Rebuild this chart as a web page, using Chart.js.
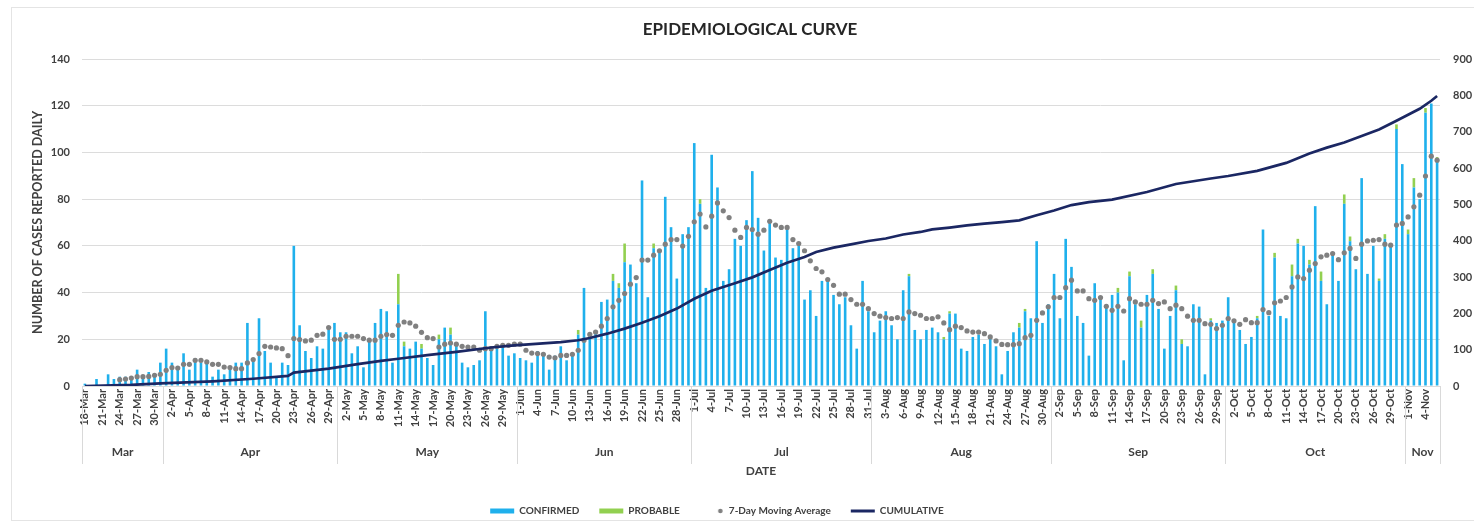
<!DOCTYPE html>
<html><head><meta charset="utf-8">
<script src="https://cdn.jsdelivr.net/npm/chart.js@4/dist/chart.umd.min.js"></script>
<style>
html,body{margin:0;padding:0;background:#fff;}
#wrap{position:relative;width:1474px;height:528px;overflow:hidden;}
#frame{position:absolute;left:11px;top:7px;width:1475px;height:514px;border:1px solid #e4e4e4;box-sizing:border-box;pointer-events:none;}
canvas{position:absolute;left:0;top:0;}
</style></head><body>
<div id="wrap"><canvas id="c" width="1474" height="528"></canvas><div id="frame"></div></div>
<script>
// Month groups of the category axis
const monthLabels = ['Mar','Apr','May','Jun','Jul','Aug','Sep','Oct','Nov'];
const monthFirstDay = [18,1,1,1,1,1,1,1,1];
const monthLastDay  = [31,30,31,30,31,31,30,31,6];

// Daily categories (18-Mar ... 6-Nov)
const dates = [];
monthLabels.forEach((m,i)=>{ for(let d=monthFirstDay[i]; d<=monthLastDay[i]; d++) dates.push(d+'-'+m); });

// CONFIRMED daily cases
const confirmed = [
 1,0,3,0,5,3,4,4,3,7,4,6,5,10,
 16,10,8,14,7,12,10,10,4,7,5,7,10,10,27,12,29,15,10,4,10,9,60,26,15,12,17,16,24,27,
 23,23,14,17,8,19,27,33,32,10,35,17,16,19,16,12,9,20,25,22,18,10,8,9,11,32,17,17,17,13,14,
 12,11,10,15,14,7,13,17,11,14,22,42,22,23,36,37,45,42,53,52,44,88,38,59,58,81,68,46,65,68,
 104,78,42,99,85,45,50,63,60,71,92,72,58,71,55,54,68,59,60,37,41,30,45,46,39,35,38,26,16,45,32,
 23,28,32,26,20,41,47,24,20,24,25,23,20,31,31,16,15,21,22,18,21,17,5,15,23,25,32,29,62,27,35,
 48,29,63,51,30,27,13,44,38,35,39,40,11,47,35,25,39,48,33,16,30,41,18,17,35,34,5,28,27,28,
 38,27,24,18,21,29,67,30,55,30,29,47,61,60,52,77,45,35,56,45,78,62,50,89,48,60,45,63,61,110,95,65,85,80,
 117,121,97
];
// PROBABLE daily cases
const probable = [
 0,0,0,0,0,0,0,0,0,0,0,0,0,0,
 0,0,0,0,0,0,0,0,0,0,0,0,0,0,0,0,0,0,0,0,0,0,0,0,0,0,0,0,0,0,
 0,0,0,0,0,0,0,0,0,0,13,2,0,0,2,0,0,2,0,3,0,0,0,0,0,0,0,0,1,0,0,
 0,0,0,0,0,0,0,0,0,0,2,0,0,0,0,0,3,2,8,0,0,0,0,2,0,0,0,0,0,0,
 0,2,0,0,0,0,0,0,0,0,0,0,0,0,0,0,0,0,0,0,0,0,0,0,0,0,0,0,0,0,0,
 0,0,0,0,0,0,1,0,0,0,0,0,1,1,0,0,0,0,0,0,0,0,0,0,0,2,1,0,0,0,0,
 0,0,0,0,0,0,0,0,0,0,0,2,0,2,0,3,0,2,0,0,0,2,2,0,0,0,0,1,0,0,
 0,0,0,0,0,1,0,0,2,0,0,5,2,0,2,0,4,0,0,0,4,2,0,0,0,0,1,2,0,2,0,2,4,0,
 2,0,1
];
// 7-Day Moving Average
const movingAvg = [
 null,null,null,null,null,null,2.7,3,3.4,4,4,4.1,4.6,5,
 6.7,7.9,7.7,9.3,9.3,11,11,10.3,9.3,9.3,8.1,7.9,7.4,7.4,9.9,11.3,13.9,17,16.7,16.3,16,13,20.3,19.9,19.3,19.6,21.7,22.2,25,20,
 20,21.3,21.3,21.3,20.3,19.6,19.6,21.3,22,21.7,26,27.4,27,25.6,23,20.7,20.3,16.7,17.9,18.4,17.9,17,16.7,16.7,15.3,16,16,17,17.4,17.4,17.9,
 17.9,15.3,14.1,13.9,13.6,12.4,12.1,13.1,13.1,13.6,15.3,19.6,22.1,23.1,25.6,28.9,33.9,36.7,39.6,43.6,46.4,53.9,53.9,56,57.9,60.7,62.7,62.7,59.9,64.1,
 70.3,73.6,68.1,72.7,78.4,75,72.1,66.7,63.6,67.9,67,65,66.7,70.5,68.9,67.9,67.9,62.7,61,57.9,53.6,50.3,48.9,45.6,43.1,39.3,39.3,37,35,35,33.1,
 31,29.9,29.3,28.9,29.3,28.9,31.7,31,30.3,28.9,28.9,29.6,27,24.1,25.6,25,23.6,23.1,23.1,22.4,21,19.3,17.8,17.7,17.7,18.1,20.7,21.7,28.1,31.3,33.9,
 37.9,37.9,42.1,45.3,40.7,40.7,37.4,36.7,37.9,34.1,32.4,34.1,32.1,37.4,36,35,35,36.7,35.3,36,33.1,34.6,33.1,29.9,28.1,28.1,26.7,26.4,24.6,26,
 28.9,27.9,26.4,28.4,27.1,27.1,32.7,31.4,35.6,36.4,37.9,42.4,46.7,46,49.6,52.4,55.3,56,56.7,54.1,57,58.9,54.6,60.7,62.1,62.4,62.7,60.7,60.3,68.9,69.6,72.4,76.7,81.7,
 89.9,98.4,96.7
];
// CUMULATIVE (right axis), read at the marked days
const cumulativeDays = [0,8,13,22,29,35,36,42,47,51,54,59,64,70,74,82,85,87,90,93,96,99,102,105,108,112,115,118,121,124,126,129,132,135,138,141,144,146,149,152,155,158,161,164,167,170,173,177,183,188,194,197,202,207,211,214,217,220,223,226,230,232,233];
const cumulativeVals = [0,3,7,13,20,28,37,48,60,69,75,85,94,106,112,121,126,132,144,158,174,192,213,240,262,283,299,319,339,355,369,381,390,399,406,417,424,431,436,442,447,451,456,470,483,498,506,513,534,556,571,578,592,614,640,656,670,688,706,730,763,785,798];
const cumulative = dates.map(()=>null);
cumulativeDays.forEach((d,i)=>{ cumulative[d] = cumulativeVals[i]; });

const leftTicks = {min:0, max:140, step:20};
const rightTicks = {min:0, max:900, step:100};

const FONT = 'Lato, "Open Sans", sans-serif';
const TXT = '#404040';
const BLUE = '#1fb0ec', GREEN = '#92d050', GREY = '#808080', NAVY = '#1b2763';

// legend marker for the moving average: small dot at the right end of a 24px box
const dot = document.createElement('canvas');
dot.width = 24; dot.height = 6;
(function(){const g=dot.getContext('2d');g.fillStyle=GREY;g.beginPath();g.arc(20.5,3,2.3,0,Math.PI*2);g.fill();})();

const monthRow = {
  id:'monthRow',
  afterLayout(chart){
    // nudge title and legend to their positions in the reference
    if (chart.titleBlock){ chart.titleBlock.left += 13; chart.titleBlock.right += 13; }
    if (chart.legend){ chart.legend.left -= 20; chart.legend.right -= 20; }
  },
  afterDraw(chart){
    const {ctx} = chart; const {left,right,bottom} = chart.chartArea;
    const w = (right-left)/dates.length;
    ctx.save();
    ctx.strokeStyle = '#d9d9d9'; ctx.lineWidth = 1;
    ctx.fillStyle = TXT; ctx.font = 'bold 12px '+FONT; ctx.textAlign='center'; ctx.textBaseline='middle';
    let s = 0;
    monthLabels.forEach((m,i)=>{
      const cnt = monthLastDay[i]-monthFirstDay[i]+1;
      const x0 = left + s*w, x1 = left + (s+cnt)*w;
      ctx.beginPath(); ctx.moveTo(Math.round(x0)+0.5, bottom); ctx.lineTo(Math.round(x0)+0.5, bottom+78); ctx.stroke();
      if (i === monthLabels.length-1){ ctx.beginPath(); ctx.moveTo(Math.round(x1)+0.5, bottom); ctx.lineTo(Math.round(x1)+0.5, bottom+78); ctx.stroke(); }
      ctx.fillText(m, (x0+x1)/2, bottom+66);
      s += cnt;
    });
    ctx.restore();
  }
};

new Chart(document.getElementById('c'), {
  type:'bar',
  data:{
    labels: dates,
    datasets:[
      {label:'CONFIRMED', data:confirmed, backgroundColor:BLUE, stack:'cases', order:2, barPercentage:0.45, categoryPercentage:1, yAxisID:'y'},
      {label:'PROBABLE', data:probable, backgroundColor:GREEN, stack:'cases', order:3, barPercentage:0.45, categoryPercentage:1, yAxisID:'y'},
      {type:'line', label:'7-Day Moving Average', data:movingAvg, stack:'ma', showLine:false, pointRadius:2.6, pointBackgroundColor:GREY, pointBorderWidth:0, borderColor:GREY, order:1, yAxisID:'y'},
      {type:'line', label:'CUMULATIVE', data:cumulative, borderColor:NAVY, borderWidth:2.7, pointRadius:0, spanGaps:true, tension:0, order:0, yAxisID:'y1'}
    ]
  },
  options:{
    responsive:false, animation:false, devicePixelRatio:1,
    layout:{padding:{left:0,right:0,top:0,bottom:2}},
    plugins:{
      title:{display:true, text:'EPIDEMIOLOGICAL CURVE', color:'#262626', font:{family:FONT,size:17,weight:'bold'}, padding:{top:19,bottom:19.6}},
      tooltip:{enabled:false},
      legend:{position:'bottom',
        labels:{usePointStyle:true, pointStyleWidth:24, boxHeight:5, padding:20, color:TXT, font:{family:FONT,size:10,weight:'bold'},
          generateLabels(){
            return [
              {text:'CONFIRMED', fillStyle:BLUE, strokeStyle:BLUE, lineWidth:0, pointStyle:'rect', hidden:false, datasetIndex:0, fontColor:TXT},
              {text:'PROBABLE', fillStyle:GREEN, strokeStyle:GREEN, lineWidth:0, pointStyle:'rect', hidden:false, datasetIndex:1, fontColor:TXT},
              {text:'7-Day Moving Average', fillStyle:GREY, strokeStyle:GREY, lineWidth:0, pointStyle:dot, hidden:false, datasetIndex:2, fontColor:TXT},
              {text:'CUMULATIVE', fillStyle:NAVY, strokeStyle:NAVY, lineWidth:3, pointStyle:'line', hidden:false, datasetIndex:3, fontColor:TXT}
            ];
          }}}
    },
    scales:{
      x:{type:'category', stacked:true, offset:true,
        grid:{display:false, drawTicks:false}, border:{display:false},
        ticks:{autoSkip:false, minRotation:90, maxRotation:90, padding:3, color:TXT, font:{family:FONT,size:11,weight:'bold'},
          callback(v,i){ return i%3===0 ? this.getLabelForValue(v) : ''; }},
        title:{display:true, text:'DATE', color:TXT, font:{family:FONT,size:12,weight:'bold'}, padding:{top:0,bottom:8}},
        afterFit(s){ s.height = 100; }
      },
      y:{position:'left', stacked:true, min:leftTicks.min, max:leftTicks.max,
        ticks:{stepSize:leftTicks.step, padding:12, color:TXT, font:{family:FONT,size:11,weight:'bold'}},
        grid:{color:'#dcdcdc', drawTicks:false}, border:{display:false},
        title:{display:true, text:'NUMBER OF CASES REPORTED DAILY', color:TXT, font:{family:FONT,size:12.6,weight:'bold'}, padding:{top:30,bottom:0}},
        afterFit(s){ s.width = 82; }
      },
      y1:{position:'right', min:rightTicks.min, max:rightTicks.max,
        ticks:{stepSize:rightTicks.step, padding:13, color:TXT, font:{family:FONT,size:11,weight:'bold'}},
        grid:{display:false, drawTicks:false}, border:{display:false},
        afterFit(s){ s.width = 34; }
      }
    }
  },
  plugins:[monthRow]
});
</script>
</body></html>
